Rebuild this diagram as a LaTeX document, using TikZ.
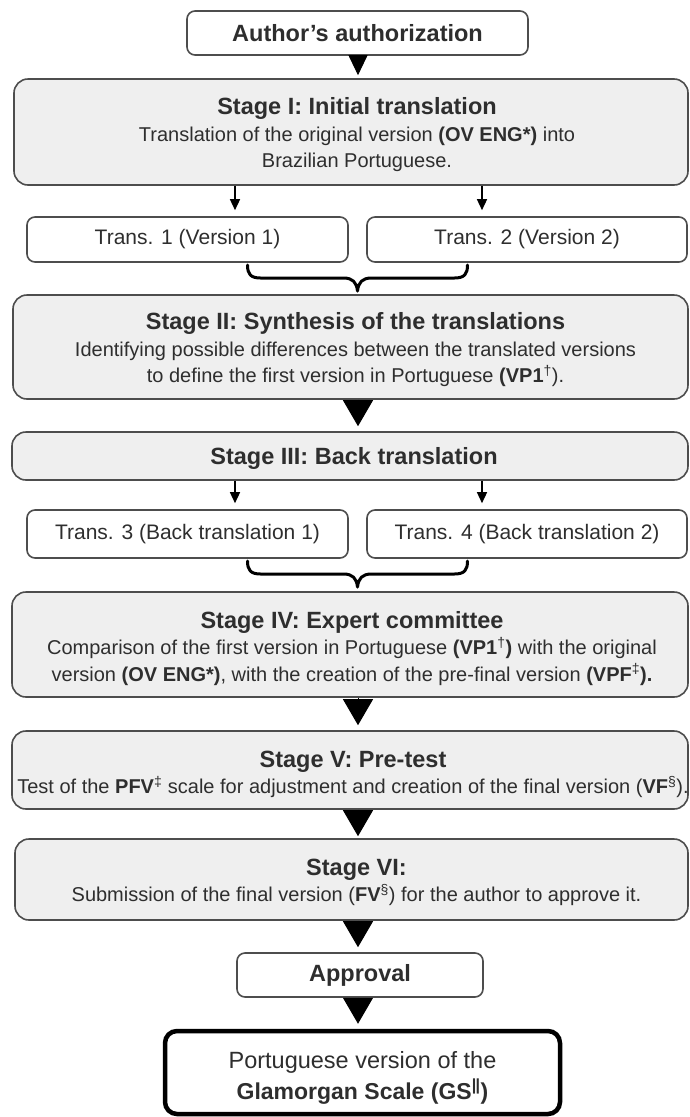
\documentclass[tikz,border=0pt]{standalone}
\usepackage{fontspec}
\setmainfont{Liberation Sans}
\usetikzlibrary{arrows.meta}
\definecolor{boxline}{HTML}{4D4D4D}
\definecolor{stagefill}{HTML}{EFEFEF}
\definecolor{txt}{HTML}{2E2E2E}
\newcommand{\bodyfs}{\fontsize{20pt}{26.5pt}\selectfont}
\newcommand{\transfs}{\fontsize{21pt}{26pt}\selectfont}
\newcommand{\titlefs}{\fontsize{23.5pt}{26pt}\selectfont\bfseries}
\begin{document}
\begin{tikzpicture}[x=1pt,y=-1pt,
  base/.style={draw=boxline, line width=1.6pt, text=txt, align=center, inner sep=0pt, font=\bodyfs},
  stagebox/.style={base, fill=stagefill, rounded corners=14pt},
  stagetext/.style={text=txt, align=center, inner sep=0pt, font=\bodyfs},
  whitebox/.style={base, fill=white, rounded corners=8pt},
  transbox/.style={whitebox, font=\transfs},
  finalbox/.style={draw=black, line width=4.5pt, fill=white, rounded corners=12pt},
  finaltext/.style={text=txt, align=center, inner sep=0pt, font=\fontsize{23.5pt}{31pt}\selectfont},
  bigtip/.style={-{Triangle[width=30pt,length=26pt]}, line width=1pt, shorten >=5pt},
  smalltip/.style={-{Triangle[width=10pt,length=11pt]}, line width=1.4pt, shorten >=6pt},
  bracestyle/.style={line width=3pt, line cap=round, line join=round, draw=black}
]
\useasboundingbox (0,0) rectangle (690,1117);
\coordinate (axis) at (358,0);
\coordinate (la) at (235,0);
\coordinate (ra) at (482,0);

\node[whitebox, minimum width=341pt, minimum height=44pt] (auth) at (357.5,33) {\titlefs Author's authorization};

% Stage I
\node[stagebox, minimum width=674pt, minimum height=106pt] (s1) at (351,132) {};
\node[stagetext] (s1t) at ([xshift=6pt,yshift=-3pt]s1.center)
  {{\titlefs Stage I: Initial translation}\\
   Translation of the original version \textbf{(OV ENG*)} into\\
   Brazilian Portuguese.};

\node[transbox, minimum width=321pt, minimum height=45pt] (t1) at (187.5,239.5) {Trans. 1 (Version 1)};
\node[transbox, minimum width=320pt, minimum height=45pt] (t2) at (527,239.5) {Trans. 2 (Version 2)};

% Stage II
\node[stagebox, minimum width=675pt, minimum height=104pt] (s2) at (350.5,347) {};
\node[stagetext] (s2t) at ([xshift=5pt,yshift=-3pt]s2.center)
  {{\titlefs Stage II: Synthesis of the translations}\\
   Identifying possible differences between the translated versions\\
   to define the first version in Portuguese \textbf{(VP1}\textsuperscript{†}).};

% Stage III
\node[stagebox, minimum width=676pt, minimum height=48pt] (s3) at (350,456) {};
\node[stagetext] (s3t) at ([xshift=4pt,yshift=-2.5pt]s3.center) {\titlefs Stage III: Back translation};

\node[transbox, minimum width=321pt, minimum height=48pt] (t3) at (187.5,534) {Trans. 3 (Back translation 1)};
\node[transbox, minimum width=320pt, minimum height=48pt] (t4) at (527,534) {Trans. 4 (Back translation 2)};

% Stage IV
\node[stagebox, minimum width=676pt, minimum height=105pt] (s4) at (350,644.5) {};
\node[stagetext] (s4t) at ([xshift=2pt,yshift=-4pt]s4.center)
  {{\titlefs Stage IV: Expert committee}\\
   Comparison of the first version in Portuguese \textbf{(VP1}\textsuperscript{†}\textbf{)} with the original\\
   version \textbf{(OV ENG*)}, with the creation of the pre-final version \textbf{(VPF}\textsuperscript{‡}\textbf{).}};

% Stage V
\node[stagebox, minimum width=676pt, minimum height=78pt] (s5) at (350,770) {};
\node[stagetext] (s5t) at ([xshift=3pt,yshift=-4.5pt]s5.center)
  {{\titlefs Stage V: Pre-test}\\
   \makebox[600pt][c]{Test of the \textbf{PFV}\textsuperscript{‡} scale for adjustment and creation of the final version (\textbf{VF}\textsuperscript{§}).}};

% Stage VI
\node[stagebox, minimum width=673pt, minimum height=81pt] (s6) at (351.5,879.5) {};
\node[stagetext] (s6t) at ([xshift=5pt,yshift=-3pt]s6.center)
  {{\titlefs Stage VI:}\\
   Submission of the final version (\textbf{FV}\textsuperscript{§}) for the author to approve it.};

\node[whitebox, minimum width=246pt, minimum height=44pt] (appr) at (360,975) {\titlefs Approval};

\node[finalbox, minimum width=395pt, minimum height=83pt] (final) at (362.5,1072.5) {};
\node[finaltext] (finalt) at ([yshift=-5pt]final.center)
  {Portuguese version of the\\
   {\fontsize{23pt}{31pt}\selectfont\bfseries Glamorgan Scale (GS\textsuperscript{|\kern-0.6pt|})}};

% main flow triangles
\draw[-{Triangle[width=19pt,length=20pt]}, line width=1pt, shorten >=3pt] (auth.south -| axis) -- (s1.north -| axis);
\draw[bigtip] (s2.south -| axis) -- (s3.north -| axis);
\draw[bigtip] (s4.south -| axis) -- (s5.north -| axis);
\draw[bigtip, shorten >=2pt] (s5.south -| axis) -- (s6.north -| axis);
\draw[bigtip] (s6.south -| axis) -- (appr.north -| axis);
\draw[bigtip] (appr.south -| axis) -- (final.north -| axis);

% split arrows
\draw[smalltip] (s1.south -| la) -- (t1.north -| la);
\draw[smalltip] (s1.south -| ra) -- (t2.north -| ra);
\draw[smalltip] (s3.south -| la) -- (t3.north -| la);
\draw[smalltip] (s3.south -| ra) -- (t4.north -| ra);

% braces
\coordinate (b1) at (357.5,265);
\coordinate (b2) at (357.5,561);
\foreach \b in {b1,b2}{
\draw[bracestyle, shift={(\b)}] (-110,0) .. controls (-110,9) and (-107,13) .. (-97,13) -- (-14,13) .. controls (-5,13) and (-1,17) .. (0,26) .. controls (1,17) and (5,13) .. (14,13) -- (97,13) .. controls (107,13) and (110,9) .. (110,0);
}
\end{tikzpicture}
\end{document}
